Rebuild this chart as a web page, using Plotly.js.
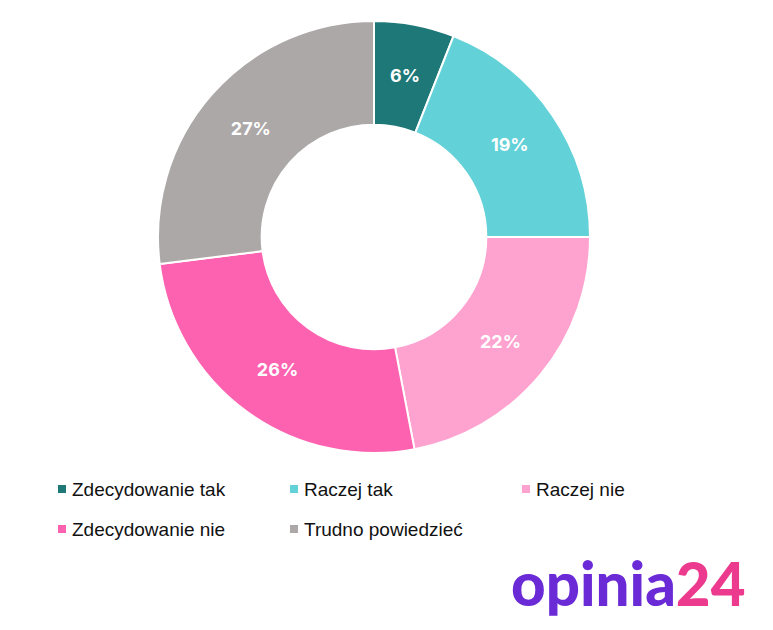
<!DOCTYPE html>
<html><head><meta charset="utf-8">
<script src="https://cdn.plot.ly/plotly-3.0.1.min.js"></script>
<style>html,body{margin:0;padding:0;background:#fff}#chart{width:773px;height:630px}</style>
</head><body><div id="chart"></div>
<script>
const labels = ["Zdecydowanie tak", "Raczej tak", "Raczej nie", "Zdecydowanie nie", "Trudno powiedzieć"];
const values = [6, 19, 22, 26, 27];
const colors = ["#1e7878", "#62d1d8", "#fea2d0", "#fd62b0", "#aca8a8"];
const textLabels = values.map(v => v + "%");

const W = 773, H = 630;
const HOLE = 0.52;
const dom = {x0: 158, x1: 590, y0: 20, y1: 454};
const legendCols = [58, 290, 522];
const legendRows = [489, 529];
const labelFont = {family: "Inter, Lato, sans-serif", size: 18, color: "#ffffff", weight: 700};

const shapes = [], annotations = [];
labels.forEach((lab, i) => {
  const cx = legendCols[i % 3], cy = legendRows[Math.floor(i / 3)];
  shapes.push({type: "rect", xref: "paper", yref: "paper",
    x0: cx / W, x1: (cx + 8) / W, y0: 1 - (cy + 4) / H, y1: 1 - (cy - 4) / H,
    fillcolor: colors[i], line: {width: 0}});
  annotations.push({xref: "paper", yref: "paper", x: (cx + 12) / W, y: 1 - cy / H,
    xanchor: "left", yanchor: "middle", showarrow: false, text: lab,
    font: {family: "Liberation Sans, Arial, sans-serif", size: 19, color: "#111"}});
});

// label for the narrow first slice, placed at mid-radius of its mid-angle
const total = values.reduce((a, b) => a + b, 0);
const textPos = values.map(() => "inside");
(function () {
  const i = 0;
  const before = values.slice(0, i).reduce((a, b) => a + b, 0);
  const ang = (before + values[i] / 2) / total * 2 * Math.PI;
  const cx = (dom.x0 + dom.x1) / 2, cy = (dom.y0 + dom.y1) / 2;
  const R = Math.min(dom.x1 - dom.x0, dom.y1 - dom.y0) / 2;
  const rm = R * (1 + HOLE) / 2;
  textPos[i] = "none";
  annotations.push({xref: "paper", yref: "paper",
    x: (cx + rm * Math.sin(ang)) / W, y: 1 - (cy - rm * Math.cos(ang)) / H,
    xanchor: "center", yanchor: "middle", showarrow: false,
    text: textLabels[i], font: labelFont});
})();

annotations.push({xref: "paper", yref: "paper", x: 747 / W, y: 1 - 583 / H,
  xanchor: "right", yanchor: "middle", showarrow: false,
  text: '<span style="color:#6a2bd6">opinia</span><span style="color:#ec3a8e">24</span>',
  font: {family: "Lato, Inter, sans-serif", size: 60, weight: 900}});

const trace = {
  type: "pie", labels: labels, values: values, text: textLabels,
  textinfo: "text", textposition: textPos, insidetextorientation: "horizontal",
  hole: HOLE, sort: false, direction: "clockwise", rotation: 0,
  marker: {colors: colors, line: {color: "#ffffff", width: 2}},
  textfont: labelFont,
  domain: {x: [dom.x0 / W, dom.x1 / W], y: [1 - dom.y1 / H, 1 - dom.y0 / H]},
  showlegend: false, hoverinfo: "label+percent"
};

Plotly.newPlot("chart", [trace], {
  width: W, height: H, margin: {l: 0, r: 0, t: 0, b: 0},
  paper_bgcolor: "#ffffff", showlegend: false,
  shapes: shapes, annotations: annotations
}, {displayModeBar: false});
</script></body></html>
